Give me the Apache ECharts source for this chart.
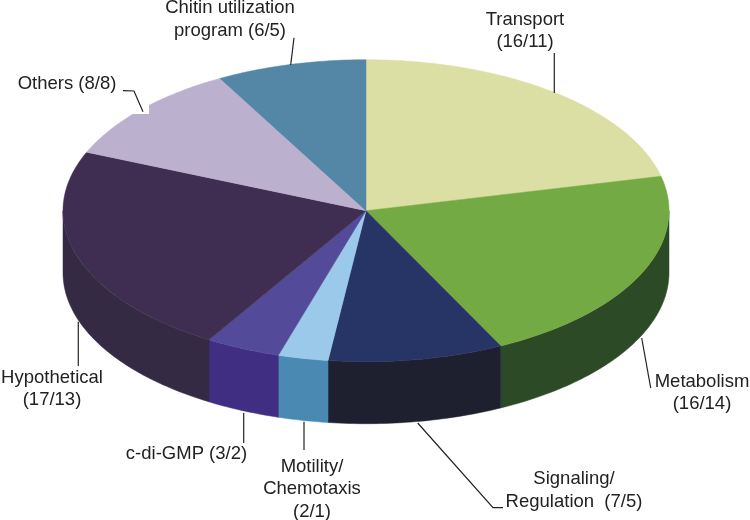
<!DOCTYPE html>
<html><head><meta charset="utf-8">
<style>html,body{margin:0;padding:0;background:#fff}#c{width:750px;height:520px}</style>
<script src="https://cdn.jsdelivr.net/npm/echarts@6/dist/echarts.min.js"></script>
</head><body><div id="c"></div>
<script>
var categories = ['Transport','Metabolism','Signaling/Regulation','Motility/Chemotaxis','c-di-GMP','Hypothetical','Others','Chitin utilization program'];
var totals = [16,16,7,2,3,17,8,6];
var subset = [11,14,5,1,2,13,8,5];
var labelTexts = ['Transport\n(16/11)','Metabolism\n(16/14)','Signaling/\nRegulation  (7/5)','Motility/\nChemotaxis\n(2/1)','c-di-GMP (3/2)','Hypothetical\n(17/13)','Others (8/8)','Chitin utilization\nprogram (6/5)'];
var topColors = ['#dcdfa3','#74aa43','#273566','#9bc9ea','#534a9a','#402e52','#bcb0cf','#5486a6'];
var sideColors = ['#8f9260','#2d4a26','#1e2030','#4a8ab2','#3f2e82','#352a44','#7a7090','#35566c'];
// layout
var CX = 366, CY = 210.7, RX = 303, RY = 151, DEPTH = 62;
var labelPos = [[525,31],[702,393],[574,490.5],[312,489],[186.5,454],[52,389],[67,84],[230,19.5]];
var leaders = [
 [[554.3,53],[554.3,93]],
 [[641.7,338],[650.7,388]],
 [[417.7,423],[493,507.7],[503,507.7]],
 [[304,421.7],[304,450]],
 [[243.7,413],[243.7,443]],
 [[78.3,321.7],[78.3,366]],
 [[123,90.7],[134,91],[143,111.7]],
 [[294,37.7],[290.7,65]]
];
var total = totals.reduce(function(a,b){return a+b;},0);
var starts = [], acc = 0;
totals.forEach(function(v){starts.push(acc); acc += v;});
function pt(deg, dy){
  var r = deg*Math.PI/180;
  return [CX + RX*Math.sin(r), CY - RY*Math.cos(r) + (dy||0)];
}
function arc(a0,a1,dy){
  var out=[], n=Math.max(2,Math.ceil(Math.abs(a1-a0)/1));
  for(var i=0;i<=n;i++) out.push(pt(a0+(a1-a0)*i/n,dy));
  return out;
}
function renderItem(params, api){
  var i = params.dataIndex;
  var a0 = starts[i]/total*360, a1 = a0 + api.value(0)/total*360;
  var children = [];
  var s0 = Math.max(a0,90), s1 = Math.min(a1,270);
  if (s1 > s0){
    var side = arc(s0,s1,0).concat(arc(s1,s0,DEPTH));
    children.push({type:'polygon',shape:{points:side},style:{fill:sideColors[i],stroke:sideColors[i],lineWidth:0.5}});
  }
  var top = [[CX,CY]].concat(arc(a0,a1,0));
  children.push({type:'polygon',z2:5,shape:{points:top},style:{fill:topColors[i],stroke:topColors[i],lineWidth:0.5}});
  return {type:'group',children:children};
}
var graphics = [{type:'rect',shape:{x:133,y:105,width:16,height:9},style:{fill:'#fff'},z:10}];
leaders.forEach(function(p){
  graphics.push({type:'polyline',shape:{points:p},style:{stroke:'#222',lineWidth:1.2,fill:null},z:11});
});
labelTexts.forEach(function(t,i){
  graphics.push({type:'text',x:labelPos[i][0],y:labelPos[i][1],z:12,style:{text:t,fill:'#222',font:'18.5px "Liberation Sans", Arial, sans-serif',align:'center',verticalAlign:'middle',lineHeight:22.5}});
});
var chart = echarts.init(document.getElementById('c'),null,{renderer:'canvas'});
chart.setOption({
  animation:false,
  backgroundColor:'#fff',
  series:[{type:'custom',coordinateSystem:'none',renderItem:renderItem,
    data:categories.map(function(c,i){return {name:c,value:[totals[i],subset[i]]};})}],
  graphic:graphics
});
</script></body></html>
